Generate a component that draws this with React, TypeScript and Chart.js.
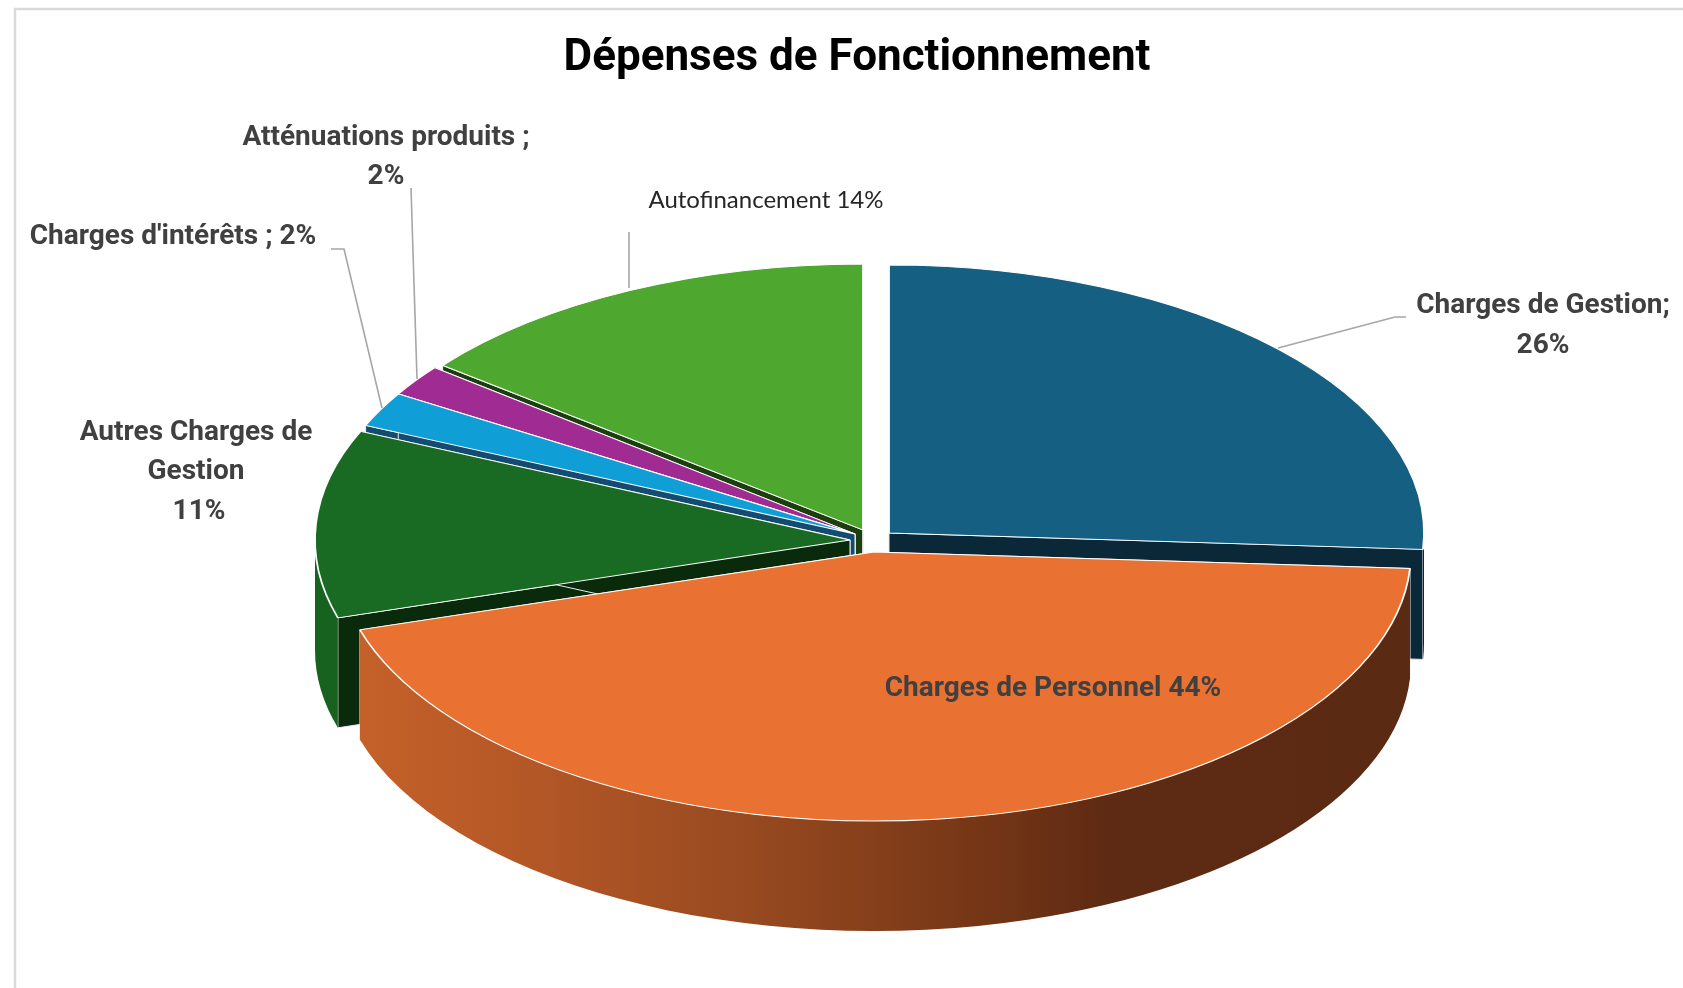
import React, { useEffect, useRef } from "react";
import { Chart, registerables } from "chart.js";

Chart.register(...registerables);

const categories = [
  "Charges de Gestion",
  "Charges de Personnel",
  "Autres Charges de Gestion",
  "Charges d'intérêts",
  "Atténuations produits",
  "Autofinancement",
];
const shareValues = [26, 44.4, 11.3, 2.1, 1.9, 14.4];
const topColors = ["#156082", "#E97132", "#196B24", "#0F9ED5", "#A02B93", "#4EA72E"];
const faceColors = ["#0A2838", "#5B2A13", "#0A2A0C", "#134C70", "#4A1244", "#1D3E10"];
const wallColors = ["#0A2838", "", "#17621F", "#0C7FAC", "#80227A", "#3E8625"];
const paintOrder = [5, 0, 4, 3, 2, 1];

const TITLE = "Dépenses de Fonctionnement";
const DEPTH = 110;

// Exploded position of every slice on the tilted plane
const sliceCentreX = [889, 874, 850, 855, 855, 863];
const sliceCentreY = [533, 552, 540, 534, 534, 530];
const sliceRadiusX = [535, 537, 535, 535, 535, 535];
const sliceRadiusY = [268, 269, 269, 269, 269, 266];

const BOLD = 'bold 28px Roboto, sans-serif';
const labelTexts = [
  ["Atténuations produits ;", 386, 138, BOLD, "#404040"],
  ["2%", 386, 177, BOLD, "#404040"],
  ["Charges d'intérêts ; 2%", 173, 237, BOLD, "#404040"],
  ["Autres Charges de", 196, 433, BOLD, "#404040"],
  ["Gestion", 196, 472, BOLD, "#404040"],
  ["11%", 199, 512, BOLD, "#404040"],
  ["Autofinancement 14%", 766, 200, '24px Lato, sans-serif', "#262626"],
  ["Charges de Gestion;", 1543, 306, BOLD, "#404040"],
  ["26%", 1543, 346, BOLD, "#404040"],
  ["Charges de Personnel 44%", 1053, 689, BOLD, "#404040"],
] as const;

const leaderLines = [
  [[1278, 348], [1395, 317], [1406, 317]],
  [[331, 249], [344, 249], [382, 408]],
  [[411, 188], [417, 379]],
  [[629, 232], [629, 288]],
];

const pie3d = {
  id: "pie3d",
  beforeDraw(chart: any) {
    const { ctx } = chart;
    ctx.save();
    ctx.fillStyle = "#ffffff";
    ctx.fillRect(0, 0, chart.width, chart.height);
    ctx.strokeStyle = "#d9d9d9";
    ctx.lineWidth = 2.5;
    ctx.beginPath();
    ctx.moveTo(15, chart.height);
    ctx.lineTo(15, 9);
    ctx.lineTo(chart.width, 9);
    ctx.stroke();
    ctx.restore();
  },
  beforeDatasetsDraw(chart: any) {
    const { ctx } = chart;
    const arcs = chart.getDatasetMeta(0).data;
    for (const i of paintOrder) {
      const arc = arcs[i];
      const cx = sliceCentreX[i], cy = sliceCentreY[i];
      const rx = sliceRadiusX[i], ry = sliceRadiusY[i];
      const a0 = arc.startAngle, a1 = arc.endAngle;
      const px = (a: number) => cx + rx * Math.cos(a);
      const py = (a: number) => cy + ry * Math.sin(a);

      ctx.save();
      ctx.lineWidth = 1;
      ctx.strokeStyle = "#eeeeee";
      // radial cut faces
      for (const a of [a0, a1]) {
        ctx.beginPath();
        ctx.moveTo(cx, cy);
        ctx.lineTo(px(a), py(a));
        ctx.lineTo(px(a), py(a) + DEPTH);
        ctx.lineTo(cx, cy + DEPTH);
        ctx.closePath();
        ctx.fillStyle = faceColors[i];
        ctx.fill();
        ctx.stroke();
      }
      // outer wall
      const w0 = Math.max(a0, 0), w1 = Math.min(a1, Math.PI);
      if (w1 > w0) {
        ctx.beginPath();
        ctx.ellipse(cx, cy, rx, ry, 0, w0, w1);
        ctx.ellipse(cx, cy + DEPTH, rx, ry, 0, w1, w0, true);
        ctx.closePath();
        if (wallColors[i]) {
          ctx.fillStyle = wallColors[i];
        } else {
          const g = ctx.createLinearGradient(cx - rx, 0, cx + rx, 0);
          g.addColorStop(0.03, "#C46029");
          g.addColorStop(0.2, "#B15626");
          g.addColorStop(0.4, "#95481F");
          g.addColorStop(0.6, "#753616");
          g.addColorStop(0.72, "#5E2A13");
          g.addColorStop(1, "#5B2A13");
          ctx.fillStyle = g;
        }
        ctx.fill();
      }
      ctx.restore();

      // the slice's top, drawn by the library's arc on the tilted plane
      ctx.save();
      ctx.translate(cx, cy);
      ctx.scale(rx / arc.outerRadius, ry / arc.outerRadius);
      ctx.translate(-arc.x, -arc.y);
      arc.draw(ctx);
      ctx.restore();
    }

    ctx.save();
    ctx.strokeStyle = "#a6a6a6";
    ctx.lineWidth = 1.6;
    for (const line of leaderLines) {
      ctx.beginPath();
      line.forEach(([x, y], k) => (k ? ctx.lineTo(x, y) : ctx.moveTo(x, y)));
      ctx.stroke();
    }
    ctx.textAlign = "center";
    ctx.textBaseline = "middle";
    for (const [text, x, y, font, color] of labelTexts) {
      ctx.font = font;
      ctx.fillStyle = color;
      ctx.fillText(text, x, y);
    }
    ctx.restore();
    return false;
  },
};

export default function App() {
  const ref = useRef<HTMLCanvasElement>(null);
  useEffect(() => {
    const chart = new Chart(ref.current!, {
      type: "pie",
      data: {
        labels: categories,
        datasets: [
          {
            data: shareValues,
            backgroundColor: topColors,
            borderColor: "#ffffff",
            borderWidth: 1.5,
          },
        ],
      },
      options: {
        responsive: false,
        animation: false,
        layout: { padding: { left: 31, top: 33 } },
        plugins: {
          legend: { display: false },
          tooltip: { enabled: false },
          title: {
            display: true,
            text: TITLE,
            color: "#000000",
            font: { family: "Roboto, sans-serif", size: 44, weight: "bold", lineHeight: 1.2 },
            padding: { top: 0, bottom: 10 },
          },
        },
      },
      plugins: [pie3d],
    } as any);
    return () => chart.destroy();
  }, []);
  return (
    <canvas
      ref={ref}
      width={1683}
      height={988}
      style={{ position: "absolute", left: 0, top: 0, display: "block" }}
    />
  );
}
